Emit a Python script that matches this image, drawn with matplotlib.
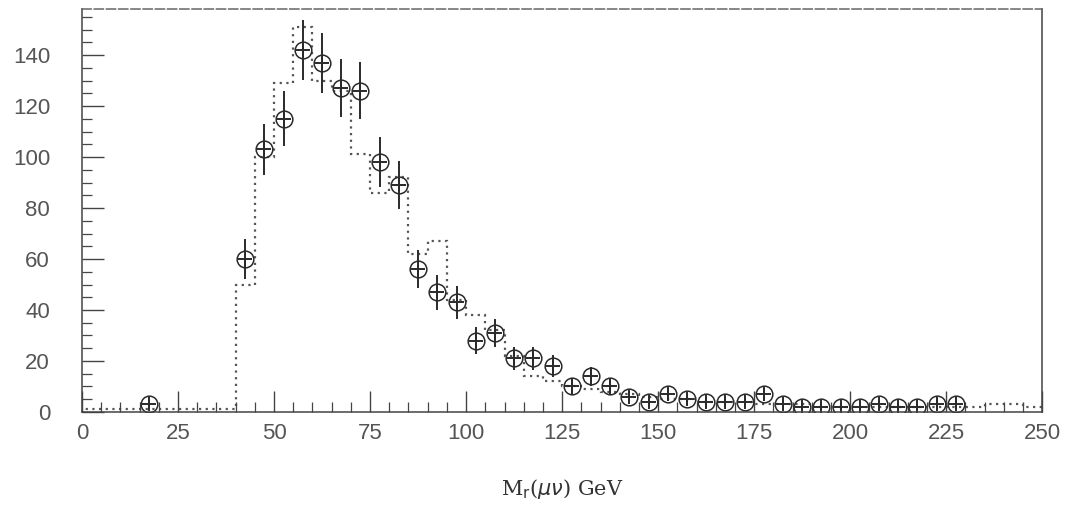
import numpy as np
import matplotlib.pyplot as plt
from matplotlib.ticker import MultipleLocator

# Bordes de los bins (5 GeV) y contenido de la simulación (histograma punteado)
bordes = np.arange(0, 255, 5)
simulacion = [1, 1, 1, 1, 1, 1, 1, 1,
              50, 100, 129, 151, 130, 126, 101, 86, 92, 62, 67, 44,
              38, 32, 22, 14, 12, 10, 9, 8, 7, 6,
              5, 5, 4, 4, 4, 3, 3, 3, 2, 2,
              2, 2, 2, 2, 2, 2, 2, 3, 3, 2]

# Datos (centros de bin, cuentas y errores)
centros = [17.5, 42.5, 47.5, 52.5, 57.5, 62.5, 67.5, 72.5, 77.5, 82.5,
           87.5, 92.5, 97.5, 102.5, 107.5, 112.5, 117.5, 122.5, 127.5, 132.5,
           137.5, 142.5, 147.5, 152.5, 157.5, 162.5, 167.5, 172.5, 177.5, 182.5,
           187.5, 192.5, 197.5, 202.5, 207.5, 212.5, 217.5, 222.5, 227.5]
cuentas = [3, 60, 103, 115, 142, 137, 127, 126, 98, 89,
           56, 47, 43, 28, 31, 21, 21, 18, 10, 14,
           10, 6, 4, 7, 5, 4, 4, 4, 7, 3,
           2, 2, 2, 2, 3, 2, 2, 3, 3]
errores = [1.7, 7.7, 10.1, 10.7, 11.9, 11.7, 11.3, 11.2, 9.9, 9.4,
           7.5, 6.9, 6.6, 5.3, 5.6, 4.6, 4.6, 4.2, 3.2, 3.7,
           3.2, 2.4, 2.0, 2.6, 2.2, 2.0, 2.0, 2.0, 2.6, 1.7,
           1.4, 1.4, 1.4, 1.4, 1.7, 1.4, 1.4, 1.7, 1.7]

fig = plt.figure(figsize=(10.69, 5.07), dpi=100)
ax = fig.add_axes([0.0767, 0.1874, 0.8983, 0.7946])

# Histograma de la simulación
ax.stairs(simulacion, bordes, linestyle=(0, (1, 2)), color='#555555', linewidth=1.6)

# Puntos de datos con barras de error
color_puntos = '#2a2a2a'
ax.errorbar(centros, cuentas, yerr=errores, fmt='none', ecolor=color_puntos,
            elinewidth=1.4, capsize=0)
ax.plot(centros, cuentas, 'o', ms=12, mfc='none', mec=color_puntos, mew=1.1)
ax.plot(centros, cuentas, '+', ms=10, mec=color_puntos, mew=1.4)

ax.set_xlim(0, 250)
ax.set_ylim(0, 158)
ax.xaxis.set_major_locator(MultipleLocator(25))
ax.xaxis.set_minor_locator(MultipleLocator(5))
ax.yaxis.set_major_locator(MultipleLocator(20))
ax.yaxis.set_minor_locator(MultipleLocator(5))
ax.tick_params(which='major', direction='in', length=15, width=1.0,
               color='#444444', labelsize=16, labelcolor='#555555', pad=8)
ax.tick_params(which='minor', direction='in', length=7, width=0.9, color='#444444')
ax.tick_params(axis='y', which='major', length=16, pad=23)
for etiqueta in ax.get_xticklabels() + ax.get_yticklabels():
    etiqueta.set_family('Liberation Sans')

for lado in ['left', 'bottom', 'right', 'top']:
    ax.spines[lado].set_color('#444444')
    ax.spines[lado].set_linewidth(1.1)
ax.spines['top'].set_linestyle((0, (6, 2)))
ax.spines['top'].set_color('#666666')

ax.set_xlabel(r'M$_{\rm r}$($\mu\nu$) GeV', fontsize=15, color='#333333',
              labelpad=24, family='DejaVu Serif')

fig.savefig('out.png', dpi=100)
